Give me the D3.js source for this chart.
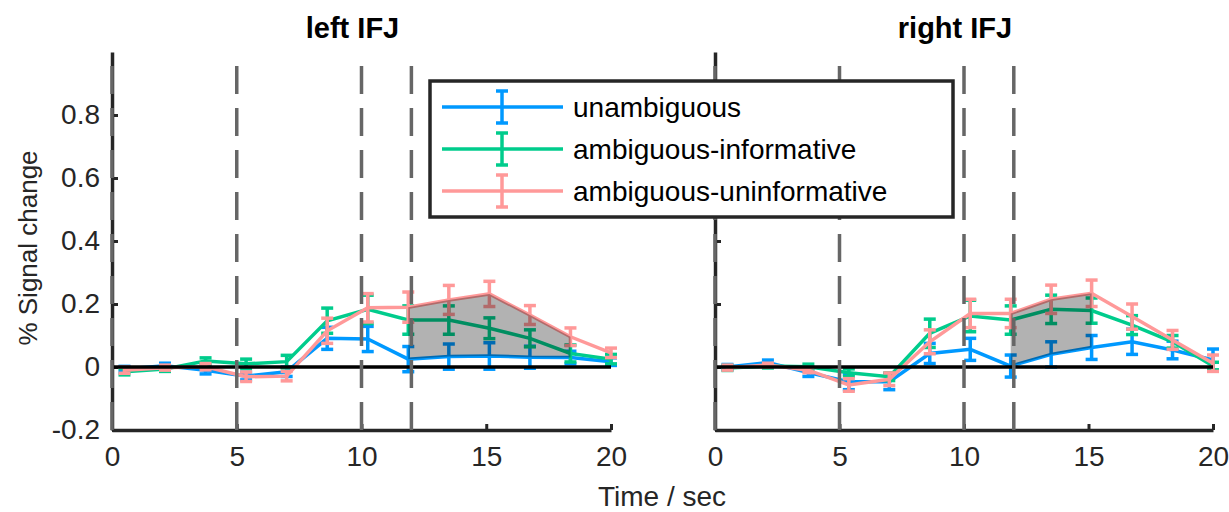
<!DOCTYPE html>
<html>
<head>
<meta charset="utf-8">
<script src="https://cdn.jsdelivr.net/npm/d3@7"></script>
<style>
  body { margin: 0; background: #fff; }
  text { font-family: "Liberation Sans", Arial, Helvetica, sans-serif; }
</style>
</head>
<body>
<svg id="chart"></svg>
<script>
// time points (sec) shared by both regions
var times = [0.5, 2.125, 3.75, 5.375, 7, 8.625, 10.25, 11.875, 13.5, 15.125, 16.75, 18.375, 20];
var eventLines = [0, 5, 10, 12];
var xTicks = [0, 5, 10, 15, 20];
var yTicks = [-0.2, 0, 0.2, 0.4, 0.6, 0.8];
var seriesNames = ["unambiguous", "ambiguous-informative", "ambiguous-uninformative"];
var seriesColors = ["#0099ff", "#00cc8c", "#ff9999"];

// left IFJ
var leftUnamb     = [-0.006, 0.004, -0.010, -0.029, -0.015, 0.091, 0.089, 0.025, 0.033, 0.035, 0.031, 0.030, 0.017];
var leftUnambErr  = [0.008, 0.008, 0.012, 0.012, 0.015, 0.035, 0.040, 0.040, 0.040, 0.042, 0.035, 0.020, 0.012];
var leftInf       = [-0.015, -0.006, 0.019, 0.010, 0.017, 0.147, 0.183, 0.149, 0.149, 0.123, 0.091, 0.043, 0.025];
var leftInfErr    = [0.010, 0.008, 0.010, 0.015, 0.020, 0.040, 0.045, 0.045, 0.045, 0.033, 0.027, 0.027, 0.015];
var leftUninf     = [-0.010, -0.002, 0.001, -0.031, -0.029, 0.115, 0.188, 0.190, 0.213, 0.232, 0.165, 0.096, 0.045];
var leftUninfErr  = [0.010, 0.008, 0.010, 0.015, 0.015, 0.040, 0.045, 0.048, 0.046, 0.040, 0.030, 0.028, 0.015];
var leftPatch = [7, 11];   // index range of shaded difference

// right IFJ
var rightUnamb    = [0.000, 0.014, -0.018, -0.047, -0.047, 0.043, 0.056, 0.003, 0.040, 0.062, 0.080, 0.054, 0.022];
var rightUnambErr = [0.008, 0.008, 0.012, 0.025, 0.025, 0.032, 0.035, 0.035, 0.040, 0.038, 0.040, 0.028, 0.035];
var rightInf      = [-0.003, 0.003, 0.001, -0.018, -0.031, 0.107, 0.162, 0.149, 0.183, 0.179, 0.133, 0.080, 0.003];
var rightInfErr   = [0.008, 0.006, 0.008, 0.012, 0.012, 0.045, 0.050, 0.045, 0.045, 0.040, 0.030, 0.020, 0.012];
var rightUninf    = [-0.002, 0.006, -0.010, -0.057, -0.039, 0.080, 0.170, 0.170, 0.215, 0.234, 0.160, 0.086, 0.012];
var rightUninfErr = [0.008, 0.006, 0.008, 0.020, 0.020, 0.038, 0.045, 0.045, 0.045, 0.042, 0.040, 0.030, 0.026];
var rightPatch = [7, 9];

var W = 1229, H = 512;
var svg = d3.select("#chart").attr("width", W).attr("height", H);

var yScale = d3.scaleLinear().domain([-0.2, 1]).range([430, 52]);
var axisColor = "#262626";
var fontSize = 28;

var panels = [
  {title: "left IFJ", x0: 112, x1: 611, labels: true, patch: leftPatch,
   means: [leftUnamb, leftInf, leftUninf], errs: [leftUnambErr, leftInfErr, leftUninfErr]},
  {title: "right IFJ", x0: 715, x1: 1213, labels: false, patch: rightPatch,
   means: [rightUnamb, rightInf, rightUninf], errs: [rightUnambErr, rightInfErr, rightUninfErr]}
];

function drawPanel(p) {
  var xScale = d3.scaleLinear().domain([0, 20]).range([p.x0, p.x1]);
  var g = svg.append("g").attr("class", "panel");

  // axes
  var yAxis = d3.axisLeft(yScale).tickValues(yTicks).tickSizeInner(-6).tickSizeOuter(0).tickPadding(12)
    .tickFormat(function(d) { return p.labels ? (d === 0 ? "0" : d.toFixed(1)) : ""; });
  var xAxis = d3.axisBottom(xScale).tickValues(xTicks).tickSizeInner(-6).tickSizeOuter(0).tickPadding(16);

  var ya = g.append("g").attr("transform", "translate(" + p.x0 + ",0)").call(yAxis);
  var xa = g.append("g").attr("transform", "translate(0," + yScale(-0.2) + ")").call(xAxis);
  [ya, xa].forEach(function(a) {
    a.attr("font-size", null).attr("font-family", null);
    a.select(".domain").attr("stroke", axisColor).attr("stroke-width", 3.5);
    a.selectAll(".tick line").attr("stroke", axisColor).attr("stroke-width", 3);
    a.selectAll(".tick text").attr("fill", axisColor).style("font-size", fontSize + "px");
  });

  // series with error bars
  var line = d3.line()
    .x(function(d, i) { return xScale(times[i]); })
    .y(function(d) { return yScale(d); });

  p.means.forEach(function(vals, s) {
    var sg = g.append("g").attr("stroke", seriesColors[s]).attr("stroke-width", 3.5).attr("fill", "none");
    sg.append("path").attr("d", line(vals));
    vals.forEach(function(v, i) {
      var x = xScale(times[i]), e = p.errs[s][i];
      var top = yScale(v + e), bot = yScale(v - e);
      sg.append("line").attr("x1", x).attr("x2", x).attr("y1", top).attr("y2", bot);
      sg.append("line").attr("x1", x - 6).attr("x2", x + 6).attr("y1", top).attr("y2", top);
      sg.append("line").attr("x1", x - 6).attr("x2", x + 6).attr("y1", bot).attr("y2", bot);
    });
  });

  // shaded difference between unambiguous and ambiguous-uninformative
  var idx = d3.range(p.patch[0], p.patch[1] + 1);
  var area = d3.area()
    .x(function(i) { return xScale(times[i]); })
    .y0(function(i) { return yScale(p.means[0][i]); })
    .y1(function(i) { return yScale(p.means[2][i]); });
  g.append("path").attr("d", area(idx)).attr("fill", "#000").attr("fill-opacity", 0.3);

  // zero line
  g.append("line")
    .attr("x1", p.x0).attr("x2", p.x1)
    .attr("y1", yScale(0)).attr("y2", yScale(0))
    .attr("stroke", "#000").attr("stroke-width", 3.5);

  // event markers
  g.selectAll(".event").data(eventLines).enter().append("line")
    .attr("class", "event")
    .attr("x1", function(d) { return xScale(d); }).attr("x2", function(d) { return xScale(d); })
    .attr("y1", yScale(-0.2)).attr("y2", yScale(1))
    .attr("stroke", "#666").attr("stroke-width", 3.5)
    .attr("stroke-dasharray", "28,14");

  // title
  g.append("text")
    .attr("x", (p.x0 + p.x1) / 2 - 9).attr("y", 38)
    .attr("text-anchor", "middle")
    .style("font-size", "29px").style("font-weight", "bold")
    .attr("fill", "#000")
    .text(p.title);
}

panels.forEach(drawPanel);

// axis labels
svg.append("text")
  .attr("x", 662).attr("y", 506)
  .attr("text-anchor", "middle")
  .style("font-size", fontSize + "px").attr("fill", axisColor)
  .text("Time / sec");

svg.append("text")
  .attr("transform", "translate(37,248) rotate(-90)")
  .attr("text-anchor", "middle")
  .style("font-size", "26px").attr("fill", axisColor)
  .text("% Signal change");

// legend
var legend = svg.append("g").attr("transform", "translate(430,81)");
legend.append("rect")
  .attr("width", 523).attr("height", 136)
  .attr("fill", "#fff").attr("stroke", axisColor).attr("stroke-width", 3.5);

seriesNames.forEach(function(name, s) {
  var y = 26 + s * 42;
  var lg = legend.append("g").attr("stroke", seriesColors[s]).attr("stroke-width", 3.5);
  lg.append("line").attr("x1", 12).attr("x2", 133).attr("y1", y).attr("y2", y);
  lg.append("line").attr("x1", 72).attr("x2", 72).attr("y1", y - 16).attr("y2", y + 16);
  lg.append("line").attr("x1", 66).attr("x2", 78).attr("y1", y - 16).attr("y2", y - 16);
  lg.append("line").attr("x1", 66).attr("x2", 78).attr("y1", y + 16).attr("y2", y + 16);
  legend.append("text")
    .attr("x", 143).attr("y", y)
    .attr("dy", "0.35em")
    .style("font-size", fontSize + "px").attr("fill", "#000")
    .text(name);
});
</script>
</body>
</html>
